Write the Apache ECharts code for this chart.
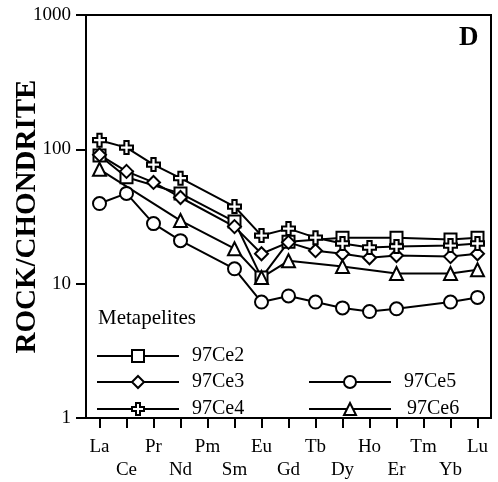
<!DOCTYPE html>
<html><head><meta charset="utf-8">
<script src="https://cdn.jsdelivr.net/npm/echarts@6/dist/echarts.min.js"></script>
<style>html,body{margin:0;padding:0;background:#fff}#c{width:498px;height:482px}</style>
</head><body><div id="c"></div>
<script>
const elements = ['La','Ce','Pr','Nd','Pm','Sm','Eu','Gd','Tb','Dy','Ho','Er','Tm','Yb','Lu'];
const yTicks = [1, 10, 100, 1000];
const ce2 = [90, 62, null, 47, null, 29, 11.1, 20.5, null, 22, null, 22, null, 21.3, 22];
const ce3 = [91, 68.5, 56.7, 43.8, null, 26.6, 16.7, 20.3, 17.6, 16.7, 15.6, 16.2, null, 15.9, 16.7];
const ce4 = [117, 103, 77, 61, null, 37.5, 22.8, 25.7, 22, 19.9, 18.6, 18.9, null, 19.2, 19.9];
const ce5 = [39.5, 47, 28, 20.9, null, 12.9, 7.3, 8.1, 7.3, 6.6, 6.2, 6.5, null, 7.3, 7.9];
const ce6 = [71, null, null, 29.5, null, 18.2, 11.1, 14.8, null, 13.4, null, 11.9, null, 11.9, 12.7];
const seriesNames = ['97Ce2','97Ce3','97Ce4','97Ce5','97Ce6'];
const legendTitle = 'Metapelites';
const panelLabel = 'D';
const yTitle = 'ROCK/CHONDRITE';

const FONT = '"Liberation Serif", "DejaVu Serif", serif';
const crossPath = 'path://M1,0H2V1H3V2H2V3H1V2H0V1H1Z';
const defs = [
  {name: seriesNames[0], data: ce2, symbol: 'rect', size: 12},
  {name: seriesNames[1], data: ce3, symbol: 'diamond', size: 13},
  {name: seriesNames[2], data: ce4, symbol: crossPath, size: 13},
  {name: seriesNames[3], data: ce5, symbol: 'circle', size: 13},
  {name: seriesNames[4], data: ce6, symbol: 'triangle', size: 13}
];
const series = defs.map(d => ({
  name: d.name, type: 'line', data: d.data, connectNulls: true,
  symbol: d.symbol, symbolSize: d.size, showAllSymbol: true,
  lineStyle: {color: '#000', width: 2},
  itemStyle: {color: '#fff', borderColor: '#000', borderWidth: 2},
  emphasis: {disabled: true}, animation: false, z: 3
}));
const legendPos = [
  {left: 96, top: 346}, {left: 96, top: 372}, {left: 96, top: 399},
  {left: 308, top: 372}, {left: 308, top: 399}
];
const legends = seriesNames.map((n, i) => ({
  data: [n], left: legendPos[i].left, top: legendPos[i].top, orient: 'horizontal',
  itemWidth: 82, itemHeight: 15, selectedMode: false,
  textStyle: {color: '#000', fontFamily: FONT, fontSize: 20, padding: [0, 0, 0, 8 + (i === 4 ? 3 : 0)]},
  padding: 0
}));

const chart = echarts.init(document.getElementById('c'), null, {renderer: 'canvas'});
chart.setOption({
  animation: false,
  backgroundColor: '#fff',
  legend: legends,
  grid: {left: 86, right: 7, top: 15, bottom: 64, show: true, borderColor: '#000', borderWidth: 2,
    backgroundColor: 'transparent', outerBoundsMode: 'none', containLabel: false},
  xAxis: {
    type: 'category', data: elements, boundaryGap: true,
    axisLine: {lineStyle: {color: '#000', width: 2}},
    axisTick: {show: true, alignWithLabel: true, length: 10, inside: false, interval: 0, lineStyle: {color: '#000', width: 2}},
    axisLabel: {interval: 0, color: '#000', fontFamily: FONT, fontSize: 19, margin: 18, lineHeight: 23,
      formatter: (v, i) => (i % 2 ? '\n' + v : v)},
    splitLine: {show: false}
  },
  yAxis: {
    type: 'log', logBase: 10, min: yTicks[0], max: yTicks[yTicks.length - 1],
    name: yTitle, nameLocation: 'middle', nameGap: 44, nameRotate: 90, nameMoveOverlap: false,
    nameTextStyle: {color: '#000', fontFamily: FONT, fontSize: 29, fontWeight: 'bold'},
    axisLine: {show: true, lineStyle: {color: '#000', width: 2}},
    axisTick: {show: true, length: 10, lineStyle: {color: '#000', width: 2}},
    minorTick: {show: false},
    axisLabel: {color: '#000', fontFamily: FONT, fontSize: 19, margin: 15,
      formatter: v => (yTicks.indexOf(Math.round(v)) >= 0 ? String(Math.round(v)) : '')},
    splitLine: {show: false}
  },
  graphic: [
    {type: 'text', left: 98, top: 308, style: {text: legendTitle, fill: '#000', font: '21px ' + FONT}},
    {type: 'text', left: 459, top: 25, style: {text: panelLabel, fill: '#000', font: 'bold 27px ' + FONT}}
  ],
  series: series
});
</script></body></html>
